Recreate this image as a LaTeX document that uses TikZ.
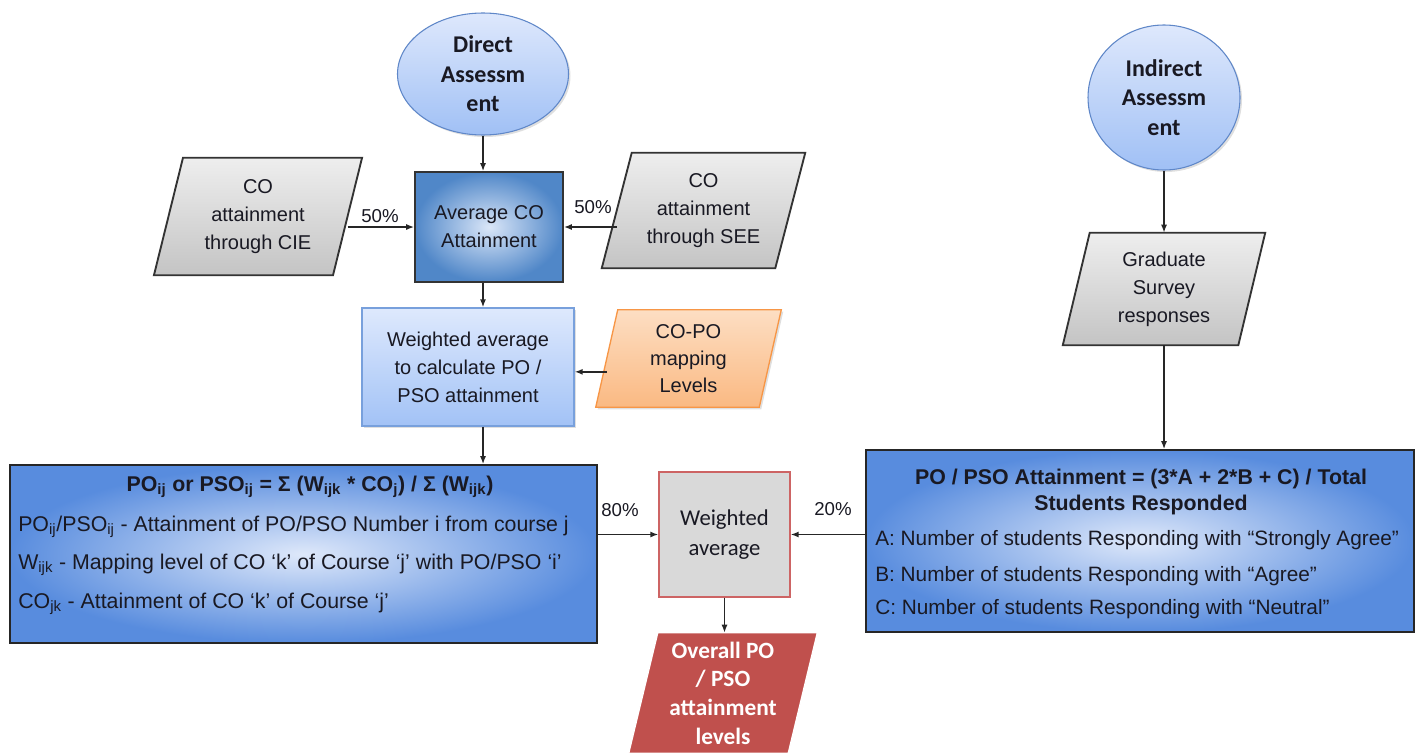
\documentclass[tikz,border=0pt]{standalone}
\usepackage{fontspec}
\setmainfont{Liberation Sans}
\newfontfamily\calfont{Carlito}
\usetikzlibrary{arrows.meta,backgrounds,shadows,shapes.geometric}
\definecolor{ellborder}{RGB}{95,135,200}
\definecolor{elltop}{RGB}{222,232,252}
\definecolor{ellbot}{RGB}{160,192,245}
\definecolor{avgin}{RGB}{218,230,248}
\definecolor{avgout}{RGB}{80,135,200}
\definecolor{wtop}{RGB}{222,233,253}
\definecolor{wbot}{RGB}{162,194,246}
\definecolor{wborder}{RGB}{120,160,220}
\definecolor{otop}{RGB}{253,222,195}
\definecolor{obot}{RGB}{250,185,130}
\definecolor{oborder}{RGB}{247,150,70}
\definecolor{gtop}{RGB}{238,238,238}
\definecolor{gbot}{RGB}{196,196,196}
\definecolor{bigin}{RGB}{222,232,250}
\definecolor{bigout}{RGB}{88,140,222}
\definecolor{wred}{RGB}{205,100,100}
\definecolor{redfill}{RGB}{192,80,77}
\definecolor{txtc}{RGB}{25,25,35}
\newcommand\parashape[3]{\path[#3] ([xshift=#2]#1.north west) -- ([xshift=#2]#1.north east) -- ([xshift=-#2]#1.south east) -- ([xshift=-#2]#1.south west) -- cycle;}
\begin{document}
\begin{tikzpicture}[x=0.75pt,y=-0.75pt,
  arr/.style={draw=black!85, line width=1.1pt, -{Latex[length=6pt,width=4.5pt]}},
  txt/.style={font=\fontsize{15}{21}\selectfont, align=center, text=txtc, inner sep=0pt},
  ellbox/.style={ellipse, draw=ellborder, line width=0.8pt, top color=elltop, bottom color=ellbot,
     align=center, text=txtc, font=\calfont\bfseries\fontsize{18}{22}\selectfont, inner sep=0pt,
     drop shadow={opacity=0.25, shadow xshift=1.5pt, shadow yshift=-1.5pt}},
  graypara/.style={draw=black!80, line width=1.4pt, top color=gtop, bottom color=gbot},
  pct/.style={font=\fontsize{14}{16}\selectfont, text=txtc, inner sep=1pt},
  bigbox/.style={draw=black!85, line width=1.2pt, inner color=bigin, outer color=bigout, inner sep=0pt},
  bigtitle/.style={font=\bfseries\fontsize{16}{20}\selectfont, align=center, text=txtc, inner sep=0pt},
  bigline/.style={font=\fontsize{16}{20}\selectfont, text=txtc, inner sep=0pt, anchor=west},
  rline/.style={bigline, font=\fontsize{15.6}{20}\selectfont}]
\useasboundingbox (0,0) rectangle (1416,753);

% direct branch
\node[ellbox, minimum width=128.25pt, minimum height=91.5pt] (direct) at (483,74) {Direct\\Assessm\\ent};
\node[txt, draw=black!80, line width=1.2pt, inner color=avgin, outer color=avgout,
      minimum width=111pt, minimum height=82.5pt] (avgco) at (489,227) {Average CO\\Attainment};
\node[txt, minimum width=133.9pt, minimum height=87.75pt] (cie) at (258,216.5) {CO\\attainment\\through CIE};
\node[txt, minimum width=129.75pt, minimum height=86.25pt] (see) at (703.5,210.5) {CO\\attainment\\through SEE};
\node[txt, draw=wborder, line width=1pt, top color=wtop, bottom color=wbot,
      minimum width=159pt, minimum height=88.5pt,
      drop shadow={opacity=0.25, shadow xshift=1.5pt, shadow yshift=-1.5pt}] (wavg) at (468,367)
      {Weighted average\\to calculate PO /\\PSO attainment};
\node[txt, font=\fontsize{15}{20}\selectfont, minimum width=122.25pt, minimum height=72.75pt] (copo) at (688.5,358.5) {CO-PO\\mapping\\Levels};

% indirect branch
\node[ellbox, minimum width=114pt, minimum height=108.75pt] (indirect) at (1164,97.5) {Indirect\\Assessm\\ent};
\node[txt, minimum width=131.25pt, minimum height=84pt] (grad) at (1164,289) {Graduate\\Survey\\responses};

% big boxes
\node[bigbox, minimum width=440.25pt, minimum height=133.5pt] (leftbox) at (303.5,554) {};
\node[bigtitle] (lt) at (310,487) {PO\textsubscript{ij} or PSO\textsubscript{ij} = Σ  (W\textsubscript{ijk} * CO\textsubscript{j}) / Σ (W\textsubscript{ijk})};
\node[bigline] (l1) at (18,527) {PO\textsubscript{ij}/PSO\textsubscript{ij} - Attainment of PO/PSO Number i from course j};
\node[bigline] (l2) at (18,565) {W\textsubscript{ijk} - Mapping  level of CO `k' of Course `j' with  PO/PSO `i'};
\node[bigline] (l3) at (18,604) {CO\textsubscript{jk} - Attainment of CO `k' of Course `j'};

\node[bigbox, minimum width=411pt, minimum height=136.5pt] (rightbox) at (1140,541) {};
\node[bigtitle] (rt) at (1141,492) {PO / PSO Attainment = (3*A  + 2*B + C) / Total\\Students Responded};
\node[rline] (r1) at (875,540) {A: Number of students Responding with  ``Strongly Agree''};
\node[rline] (r2) at (875,576) {B: Number of students Responding with  ``Agree''};
\node[rline] (r3) at (875,609) {C: Number of students Responding with  ``Neutral''};

% result
\node[draw=wred, line width=1pt, fill=gray!30, minimum width=98.25pt, minimum height=93.75pt,
      font=\calfont\fontsize{17}{22}\selectfont, align=center, text=txtc, inner sep=0pt] (gwavg) at (724.5,534.5) {Weighted\\average};
\node[font=\calfont\bfseries\fontsize{17.5}{21.5}\selectfont, align=center, text=white, inner sep=0pt,
      minimum width=119.25pt, minimum height=90pt] (overall) at (723,693) {Overall PO\\/ PSO\\attainment\\levels};

% parallelogram outlines
\begin{scope}[on background layer]
  \parashape{cie}{10.9pt}{graypara}
  \parashape{see}{11.25pt}{graypara}
  \parashape{grad}{10.1pt}{graypara}
  \parashape{copo}{8.25pt}{draw=oborder, line width=1pt, top color=otop, bottom color=obot, drop shadow={opacity=0.25, shadow xshift=1.5pt, shadow yshift=-1.5pt}}
  \parashape{overall}{10.9pt}{fill=redfill, draw=white, line width=1pt}
\end{scope}

% labels
\node[pct] (p1) at (380,216) {50\%};
\node[pct] (p2) at (593,207) {50\%};
\node[pct] (p3) at (620,510) {80\%};
\node[pct] (p4) at (833,509) {20\%};

% connectors
\draw[arr] (direct.south) -- (direct.south |- avgco.north);
\draw[arr] (cie.east |- avgco.west) -- (avgco.west);
\draw[arr] (see.west |- avgco.east) -- (avgco.east);
\draw[arr] (avgco.south -| direct.south) -- (wavg.north -| direct.south);
\draw[arr] ([yshift=-10pt]copo.west) -- ([yshift=-10pt]copo.west -| wavg.east);
\draw[arr] (wavg.south -| direct.south) -- (leftbox.north -| direct.south);
\draw[arr] (indirect.south) -- (grad.north);
\draw[arr] (grad.south) -- (grad.south |- rightbox.north);
\draw[arr] (leftbox.east |- gwavg.west) -- (gwavg.west);
\draw[arr] (rightbox.west |- gwavg.east) -- (gwavg.east);
\draw[arr] (gwavg.south) -- (gwavg.south |- overall.north);
\end{tikzpicture}
\end{document}
